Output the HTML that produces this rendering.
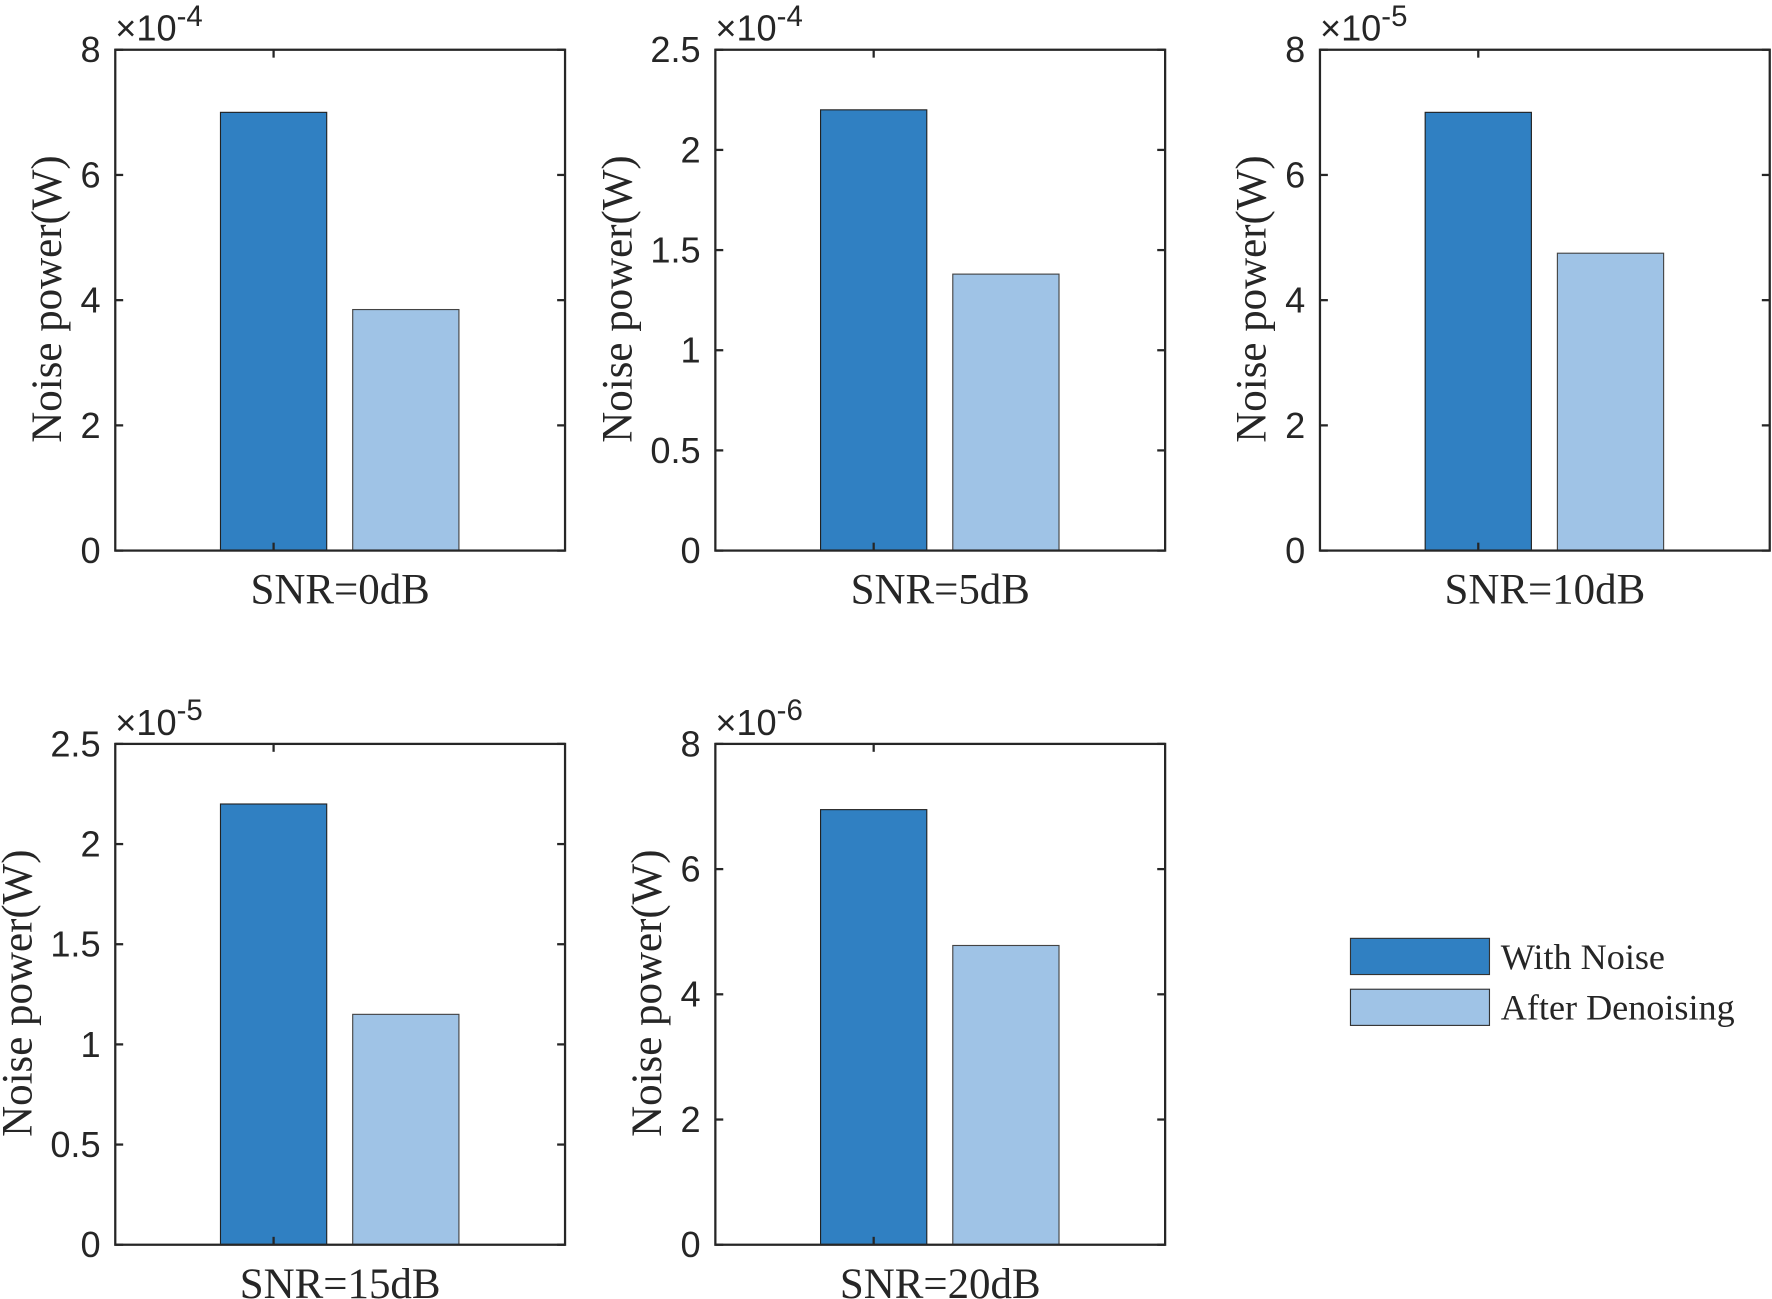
<!DOCTYPE html>
<html><head><meta charset="utf-8"><style>
html,body{margin:0;padding:0;background:#fff;}
svg{display:block;}
.tick{font-family:"Liberation Sans",Arial,sans-serif;font-size:32px;fill:#262626;}
.lab{font-family:"Liberation Serif","Times New Roman",serif;font-size:38px;fill:#262626;}
</style></head><body>
<svg id="fig" width="1772" height="1299" viewBox="0 0 1568 1149" preserveAspectRatio="none" xmlns="http://www.w3.org/2000/svg"></svg>
<script>
const snrLabels = ["SNR=0dB","SNR=5dB","SNR=10dB","SNR=15dB","SNR=20dB"];
const withNoise = [7.0, 2.2, 7.0, 2.2, 6.95];
const afterDenoise = [3.85, 1.38, 4.75, 1.15, 4.78];
const yMaxes = [8, 2.5, 8, 2.5, 8];
const exponents = ["-4","-4","-5","-5","-6"];
const ticks8 = ["0","2","4","6","8"];
const ticks25 = ["0","0.5","1","1.5","2","2.5"];
const legendLabels = ["With Noise","After Denoising"];

const NS="http://www.w3.org/2000/svg";
const svg=document.getElementById('fig');
const dark="#3080C2", light="#9FC3E6";
function mk(tag,attrs,parent){const e=document.createElementNS(NS,tag);for(const k in attrs)e.setAttribute(k,attrs[k]);(parent||svg).appendChild(e);return e;}
const layout=[[102,44],[633,44],[1168,44],[102,658],[633,658]];
const W=398,H=443;
for(let i=0;i<5;i++){
  const [L,T]=layout[i];const B=T+H,R=L+W;
  const g=mk('g',{});
  
  
  const ymax=yMaxes[i];
  const yS=v=>B-v/ymax*H;
  const labels=ymax===8?ticks8:ticks25;
  const cx=L+W*0.352;
  const bw=94;
  const b1=mk('rect',{x:cx-bw/2,y:yS(withNoise[i]),width:bw,height:B-yS(withNoise[i]),fill:dark,stroke:"#222",'stroke-width':1},g);
  
  
  const b2=mk('rect',{x:cx+bw/2+23,y:yS(afterDenoise[i]),width:bw,height:B-yS(afterDenoise[i]),fill:light,stroke:"#444",'stroke-width':1},g);
  
  
  mk('rect',{x:L,y:T,width:W,height:H,fill:'none',stroke:'#262626','stroke-width':2},g);
  labels.forEach(t=>{
    const y=yS(parseFloat(t));
    mk('line',{x1:L,x2:L+7,y1:y,y2:y,stroke:'#262626','stroke-width':2},g);
    mk('line',{x1:R,x2:R-7,y1:y,y2:y,stroke:'#262626','stroke-width':2},g);
    const tx=mk('text',{x:L-13,y:y+11,'text-anchor':'end',class:'tick'},g);
    tx.textContent=t;
    
    
  });
  mk('line',{x1:cx,x2:cx,y1:B,y2:B-7,stroke:'#262626','stroke-width':2},g);
  mk('line',{x1:cx,x2:cx,y1:T,y2:T+7,stroke:'#262626','stroke-width':2},g);
  const ex=mk('text',{x:L,y:T-8,class:'tick'},g);
  ex.innerHTML='×10<tspan dy="-13" font-size="26">'+exponents[i]+'</tspan>';
  
  
  const off=ymax===8?48:74;
  const yl=mk('text',{transform:`translate(${L-off},${T+H/2-1}) rotate(-90)`,'text-anchor':'middle',class:'lab'},g);
  yl.textContent='Noise power(W)';
  
  
  const xl=mk('text',{x:L+W/2,y:B+47,'text-anchor':'middle',class:'lab'},g);
  xl.textContent=snrLabels[i];
  
  
}
const lg=mk('g',{});


[dark,light].forEach((c,k)=>{
  const y=830+k*45;
  const r=mk('rect',{x:1195,y:y,width:123,height:32,fill:c,stroke:'#333','stroke-width':1},lg);
  
  
  const t=mk('text',{x:1328,y:y+27,class:'lab',style:'font-size:32px'},lg);
  t.textContent=legendLabels[k];
  
  
});
</script>
</body></html>
